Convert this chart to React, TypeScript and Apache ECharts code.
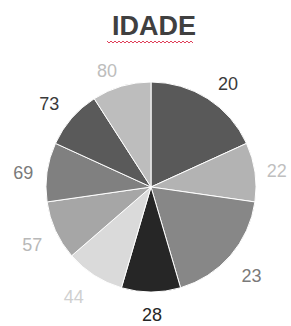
import React, { useEffect, useRef } from "react";
import * as echarts from "echarts";

const categories = ["20", "22", "23", "28", "44", "57", "69", "73", "80"];
const counts = [2, 1, 2, 1, 1, 1, 1, 1, 1];
const sliceColors = ["#595959", "#b3b3b3", "#878787", "#262626", "#dadada", "#a6a6a6", "#808080", "#5a5a5a", "#bdbdbd"];
const labelColors = ["#3a3a3a", "#bfbfbf", "#7a7a7a", "#262626", "#d0d0d0", "#b8b8b8", "#7a7a7a", "#3a3a3a", "#bdbdbd"];
const labelGaps = [19, 12, 20, 21, 23, 20, 14, 19, 16];
const labelNudgeX = [-5, -5, -9, -4, 7, 10, 5, 7, 5];
const labelNudgeY = [1, 1, 7, 2, 2, 6, 3, -2, 0];
const labelAligns = [null, null, null, "center", null, null, null, null, null];
const titleText = "IDADE";

export default function App() {
  const ref = useRef<HTMLDivElement>(null);
  useEffect(() => {
    document.body.style.margin = "0";
    const chart = echarts.init(ref.current!, null, { renderer: "svg" });
    const wave: number[][] = [];
    for (let x = 107, i = 0; x <= 194; x += 2, i++) wave.push([x, i % 2 === 0 ? 41 : 43]);
    chart.setOption({
      animation: false,
      backgroundColor: "#ffffff",
      title: {
        text: titleText,
        left: 107,
        top: 7,
        textStyle: { fontSize: 27, fontWeight: "bold", color: "#404040", fontFamily: "Liberation Sans, Arial, sans-serif" },
      },
      graphic: [
        {
          type: "polyline",
          shape: { points: wave },
          style: { stroke: "#e0405a", lineWidth: 1, fill: "none" },
          silent: true,
        },
      ],
      series: [
        {
          type: "pie",
          center: [151, 187],
          radius: 105,
          startAngle: 90,
          clockwise: true,
          avoidLabelOverlap: false,
          itemStyle: { borderColor: "#ffffff", borderWidth: 1 },
          label: {
            show: true,
            position: "outside",
            formatter: "{b}",
            fontSize: 18,
            fontFamily: "Liberation Sans, Arial, sans-serif",
          },
          labelLine: { show: false, length: 18, length2: 0 },
          labelLayout: (p: any) => {
            const o: any = { dx: labelNudgeX[p.dataIndex], dy: labelNudgeY[p.dataIndex] };
            if (labelAligns[p.dataIndex]) o.align = labelAligns[p.dataIndex];
            return o;
          },
          data: categories.map((c, i) => ({
            name: c,
            value: counts[i],
            itemStyle: { color: sliceColors[i] },
            label: { color: labelColors[i] },
            labelLine: { length: labelGaps[i], length2: 0 },
          })),
        },
      ],
    });
    return () => chart.dispose();
  }, []);
  return <div ref={ref} style={{ width: 291, height: 326 }} />;
}
